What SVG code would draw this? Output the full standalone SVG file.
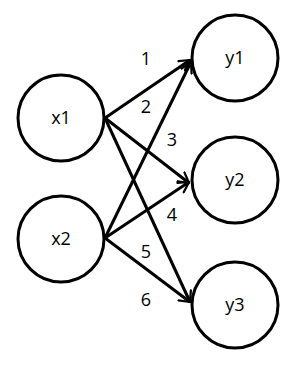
<svg xmlns="http://www.w3.org/2000/svg" width="300" height="371" viewBox="0 0 300 371">
<style>
.node circle{fill:#fff;stroke:#000;stroke-width:3}
text{font-family:"Open Sans","Noto Sans","Liberation Sans",sans-serif;font-size:18px;fill:#000;text-anchor:middle}
.edge{stroke:#000;stroke-width:3;fill:none;marker-end:url(#ah)}
</style>
<defs>
<marker id="ah" viewBox="0 0 12 12" refX="10" refY="6" markerWidth="4.5" markerHeight="4.5" orient="auto" markerUnits="strokeWidth">
<path d="M1,1 L10,6 L1,11" fill="none" stroke="#000" stroke-width="2" stroke-linecap="round" stroke-linejoin="round"/>
</marker>
</defs>
<g id="connectors">
<line class="edge" x1="105" y1="118" x2="190" y2="60"/>
<line class="edge" x1="105" y1="118" x2="189" y2="183"/>
<line class="edge" x1="105" y1="118" x2="190" y2="302"/>
<line class="edge" x1="105" y1="238" x2="191" y2="62"/>
<line class="edge" x1="105" y1="238" x2="189" y2="182"/>
<line class="edge" x1="105" y1="238" x2="190" y2="302"/>
<text x="146" y="65">1</text>
<text x="146" y="113">2</text>
<text x="172" y="146">3</text>
<text x="172" y="221">4</text>
<text x="146" y="258">5</text>
<text x="146" y="306">6</text>
</g>
<g id="x1" class="node"><circle cx="61" cy="118" r="43"/><text x="61" y="124">x1</text></g>
<g id="x2" class="node"><circle cx="61" cy="239" r="43"/><text x="61" y="245">x2</text></g>
<g id="y1" class="node"><circle cx="235" cy="58" r="43"/><text x="235" y="64">y1</text></g>
<g id="y2" class="node"><circle cx="235" cy="180" r="43"/><text x="235" y="186">y2</text></g>
<g id="y3" class="node"><circle cx="235" cy="305" r="43"/><text x="235" y="311">y3</text></g>
</svg>
